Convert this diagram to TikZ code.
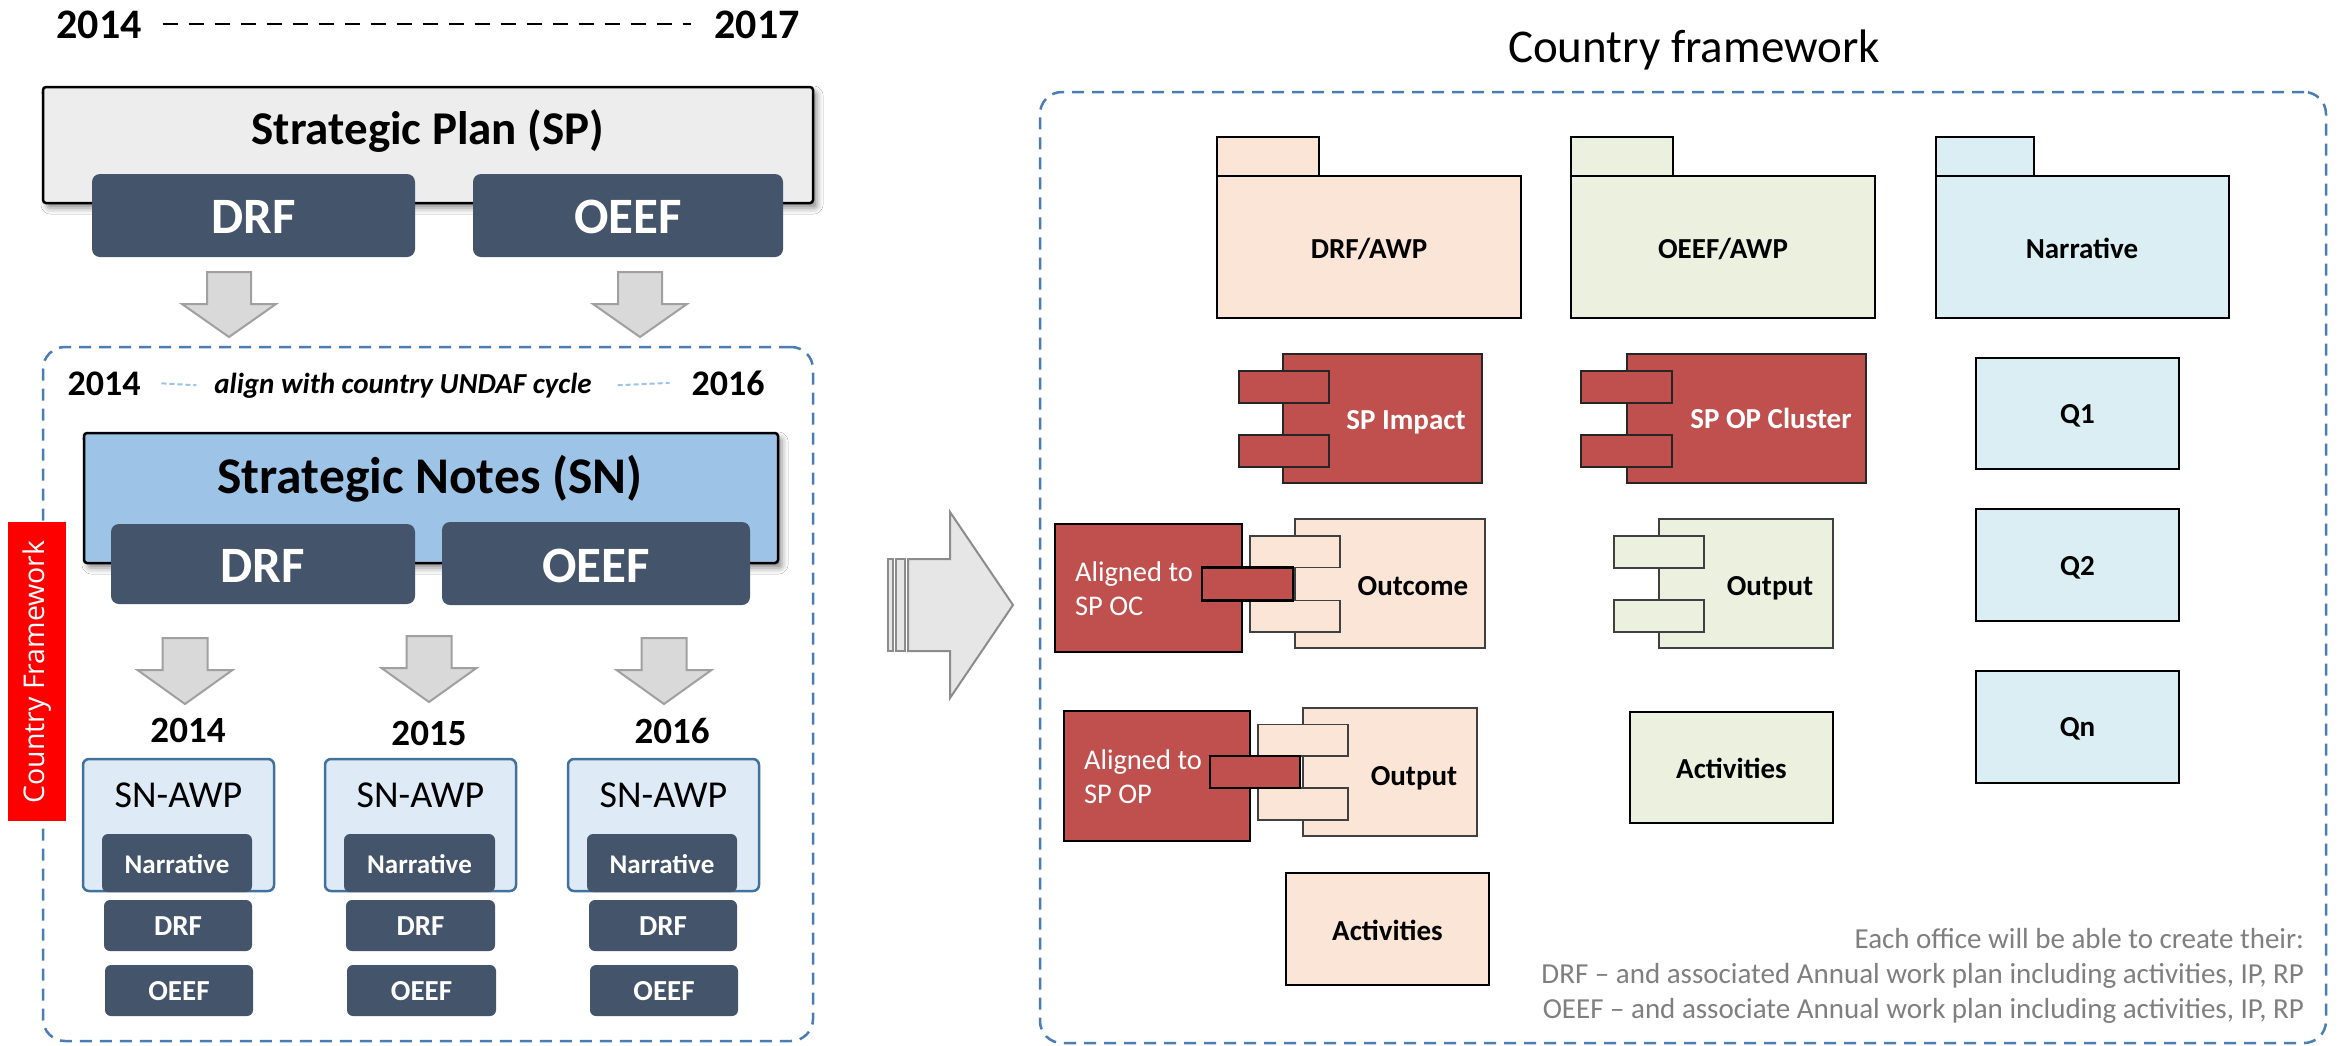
\documentclass[tikz,border=0pt]{standalone}
\usepackage{fontspec}
\setmainfont{Carlito}
\newfontfamily\labelfont{Open Sans}
\usetikzlibrary{shadows.blur}
\definecolor{darkbox}{HTML}{44546A}
\definecolor{spgray}{HTML}{EDEDED}
\definecolor{snblue}{HTML}{9DC3E6}
\definecolor{awpfill}{HTML}{DEEBF7}
\definecolor{awpline}{HTML}{41719C}
\definecolor{dashblue}{HTML}{4A7DB5}
\definecolor{lightdash}{HTML}{9DC3E6}
\definecolor{arrfill}{HTML}{D9D9D9}
\definecolor{arrline}{HTML}{A0A0A0}
\definecolor{bigfill}{HTML}{E7E6E6}
\definecolor{bigline}{HTML}{8C8C8C}
\definecolor{labred}{HTML}{FF0000}
\definecolor{compred}{HTML}{C0504D}
\definecolor{orfill}{HTML}{FBE5D6}
\definecolor{grfill}{HTML}{EBF1DE}
\definecolor{cyfill}{HTML}{DAEEF3}
\definecolor{notegray}{HTML}{7F7F7F}
\newcommand{\rbox}[7][]{%
  \pgfmathsetmacro\rbW{#6-#4}\pgfmathsetmacro\rbH{#7-#5}%
  \node[#2, minimum width=\rbW pt, minimum height=\rbH pt, anchor=north west, #1] (#3) at (#4,#5) {};}
\newcommand{\downarr}[5]{%
  \draw[blockarr] (#1-#5,#2) -- (#1+#5,#2) -- (#1+#5,#3) -- (#1+#5+25,#3) -- (#1,#4) -- (#1-#5-25,#3) -- (#1-#5,#3) -- cycle;}
\tikzset{
  every node/.style={inner sep=0pt, outer sep=0pt},
  bt/.style={font=\bfseries\fontsize{#1}{#1}\selectfont, anchor=base},
  wbt/.style={bt=#1, text=white},
  wrt/.style={font=\fontsize{28.5}{28.5}\selectfont, text=white, anchor=base west},
  darkbx/.style={fill=darkbox, draw=none, rounded corners=8pt},
  spbx/.style={fill=spgray, draw=black, line width=2.5pt, rounded corners=3pt,
    blur shadow={shadow xshift=4pt, shadow yshift=-5pt, shadow blur radius=6pt, shadow opacity=45}},
  snbx/.style={spbx, fill=snblue},
  awpbx/.style={fill=awpfill, draw=awpline, line width=2.5pt, rounded corners=6pt},
  dashbx/.style={draw=dashblue, line width=2.5pt, dash pattern=on 12pt off 8pt, rounded corners=22pt},
  blockarr/.style={fill=arrfill, draw=arrline, line width=2pt},
  bigarr/.style={fill=bigfill, draw=bigline, line width=2pt},
  redlab/.style={fill=labred, draw=none},
  redc/.style={fill=compred, draw=black!85, line width=1.5pt},
  redb/.style={fill=compred, draw=black, line width=2.2pt},
  orc/.style={fill=orfill, draw=black!75, line width=1.5pt},
  grc/.style={fill=grfill, draw=black!75, line width=1.5pt},
  orb/.style={fill=orfill, draw=black, line width=2.5pt},
  grb/.style={fill=grfill, draw=black, line width=2.5pt},
  cyb/.style={fill=cyfill, draw=black, line width=2.5pt},
  notet/.style={font=\fontsize{29}{29}\selectfont, text=notegray, anchor=base east},
}
\begin{document}
\begin{tikzpicture}[x=1pt,y=-1pt]
\useasboundingbox (0,0) rectangle (2339,1045);
\fill[white] (0,0) rectangle (2339,1045);

% ---------------- left panel ----------------
\node[bt=42] (y14) at (99,38) {2014};
\node[bt=42] (y17) at (757,38) {2017};
\draw[black, line width=2pt, dash pattern=on 15pt off 11pt] ([xshift=21pt]y14.east) -- ([xshift=-23pt]y17.west);

\rbox{spbx}{sp}{43}{87}{813}{203}
\node[bt=47] (spt) at (428,144) {Strategic Plan (SP)};
\rbox{darkbx}{spdrf}{92}{174}{415}{257}
\node[wbt=51] (spdrft) at (254,233) {DRF};
\rbox{darkbx}{spoeef}{473}{174}{783}{257}
\node[wbt=51] (spoeeft) at (628,233) {OEEF};

\downarr{229}{272}{304}{337}{22}
\downarr{640}{272}{304}{337}{22}

\rbox{dashbx}{cfl}{43}{347}{813}{1041}
\node[bt=36] (iy14) at (104,395) {2014};
\node[bt=36] (iy16) at (728,395) {2016};
\node[font=\bfseries\itshape\fontsize{29}{29}\selectfont, anchor=base] (undaf) at (403,393) {align with country UNDAF cycle};
\draw[lightdash, line width=2pt, dash pattern=on 5pt off 3pt] ([xshift=21pt]iy14.east) -- ([xshift=-18pt]undaf.west);
\draw[lightdash, line width=2pt, dash pattern=on 5pt off 3pt] ([xshift=26pt]undaf.east) -- ([xshift=-22pt]iy16.west);

\rbox{snbx}{sn}{84}{433}{778}{563}
\node[bt=51.5] (snt) at (430,493) {Strategic Notes (SN)};
\rbox{darkbx}{sndrf}{111}{524}{415}{604}
\node[wbt=51] (sndrft) at (263,582) {DRF};
\rbox{darkbx}{snoeef}{442}{522}{750}{605}
\node[wbt=51] (snoeeft) at (596,582) {OEEF};

\downarr{185}{638}{670}{704}{22.5}
\downarr{429}{636}{668}{702}{22.5}
\downarr{664}{638}{670}{704}{22.5}

\node[bt=37] (ya) at (188,742) {2014};
\node[bt=37] (yb) at (429,745) {2015};
\node[bt=37] (yc) at (672,743) {2016};

\rbox{awpbx}{awpa}{83}{759}{274}{891}
\rbox{awpbx}{awpb}{325}{759}{516}{891}
\rbox{awpbx}{awpc}{568}{759}{759}{891}
\node[font=\fontsize{38}{38}\selectfont, anchor=base] (awpat) at (178.5,807) {SN-AWP};
\node[font=\fontsize{38}{38}\selectfont, anchor=base] (awpbt) at (420.5,807) {SN-AWP};
\node[font=\fontsize{38}{38}\selectfont, anchor=base] (awpct) at (663.5,807) {SN-AWP};

\rbox[rounded corners=6pt]{darkbx}{nara}{102}{834}{252}{892}
\rbox[rounded corners=6pt]{darkbx}{narb}{344}{834}{495}{892}
\rbox[rounded corners=6pt]{darkbx}{narc}{587}{834}{737}{892}
\node[wbt=27] (narat) at (177,873) {Narrative};
\node[wbt=27] (narbt) at (419.5,873) {Narrative};
\node[wbt=27] (narct) at (662,873) {Narrative};

\rbox[rounded corners=6pt]{darkbx}{drfa}{104}{900}{252}{951}
\rbox[rounded corners=6pt]{darkbx}{drfb}{346}{900}{495}{951}
\rbox[rounded corners=6pt]{darkbx}{drfc}{589}{900}{737}{951}
\node[wbt=29] (drfat) at (178,935) {DRF};
\node[wbt=29] (drfbt) at (420.5,935) {DRF};
\node[wbt=29] (drfct) at (663,935) {DRF};

\rbox[rounded corners=6pt]{darkbx}{oefa}{105}{965}{253}{1016}
\rbox[rounded corners=6pt]{darkbx}{oefb}{347}{965}{496}{1016}
\rbox[rounded corners=6pt]{darkbx}{oefc}{590}{965}{738}{1016}
\node[wbt=29] (oefat) at (179,1000) {OEEF};
\node[wbt=29] (oefbt) at (421.5,1000) {OEEF};
\node[wbt=29] (oefct) at (664,1000) {OEEF};

\rbox{redlab}{cflab}{8}{522}{66}{821}
\node[rotate=90, text=white, font=\labelfont\fontsize{28.5}{28.5}\selectfont] (cflabt) at (37,672) {Country Framework};

% ---------------- big arrow ----------------
\draw[bigarr, line width=1.6pt] (888,559) rectangle (893,651);
\draw[bigarr, line width=1.6pt] (896,559) rectangle (905,651);
\draw[bigarr] (908,559) -- (950,559) -- (950,512) -- (1013,605) -- (950,698) -- (950,651) -- (908,651) -- cycle;

% ---------------- right panel ----------------
\node[font=\fontsize{47}{47}\selectfont, anchor=base] (cftitle) at (1694,62) {Country framework};
\rbox{dashbx}{cfr}{1040}{92}{2326}{1043}

% folders
\rbox{orb}{drfawp}{1217}{176}{1521}{318}
\rbox{orb}{drfawptab}{1217}{137}{1319}{176}
\node[bt=29] (drfawpt) at (1369,258) {DRF/AWP};
\rbox{grb}{oefawp}{1571}{176}{1875}{318}
\rbox{grb}{oefawptab}{1571}{137}{1673}{176}
\node[bt=29] (oefawpt) at (1723,258) {OEEF/AWP};
\rbox{cyb}{narr}{1936}{176}{2229}{318}
\rbox{cyb}{narrtab}{1936}{137}{2034}{176}
\node[bt=29] (narrt) at (2082,258) {Narrative};

% SP Impact
\rbox{redc}{spimp}{1283}{354}{1482}{483}
\rbox{redc}{spimpa}{1239}{371}{1329}{403}
\rbox{redc}{spimpb}{1239}{435}{1329}{467}
\node[wbt=29] (spimpt) at (1406,429) {SP Impact};

% SP OP Cluster
\rbox{redc}{spop}{1627}{354}{1866}{483}
\rbox{redc}{spopa}{1581}{371}{1672}{403}
\rbox{redc}{spopb}{1581}{435}{1672}{467}
\node[wbt=29] (spopt) at (1771,428) {SP OP Cluster};

% Q boxes
\rbox{cyb}{qa}{1976}{358}{2179}{469}
\node[bt=29] (qat) at (2077.5,423) {Q1};
\rbox{cyb}{qb}{1976}{509}{2179}{621}
\node[bt=29] (qbt) at (2077.5,575) {Q2};
\rbox{cyb}{qn}{1976}{671}{2179}{783}
\node[bt=29] (qnt) at (2077.5,736) {Qn};

% Outcome with Aligned to SP OC
\rbox{orc}{outc}{1295}{519}{1485}{648}
\rbox{redb}{aloc}{1055}{524}{1242}{652}
\rbox{orc}{outca}{1250}{536}{1340}{567.5}
\rbox{orc}{outcb}{1250}{600.5}{1340}{632}
\rbox{redb}{conoc}{1202}{567.5}{1293}{600.5}
\node[bt=29] (outct) at (1413,595) {Outcome};
\node[wrt] (aloct1) at (1075,581) {Aligned to};
\node[wrt] (aloct2) at (1075,615) {SP OC};

% Output with Aligned to SP OP
\rbox{orc}{outp}{1303}{708}{1477}{836}
\rbox{redb}{alop}{1064}{711}{1250}{841}
\rbox{orc}{outpa}{1258}{724.5}{1348}{756}
\rbox{orc}{outpb}{1258}{788}{1348}{820}
\rbox{redb}{conop}{1210}{756}{1300}{788}
\node[bt=29] (outpt) at (1414,785) {Output};
\node[wrt] (alopt1) at (1084,769.5) {Aligned to};
\node[wrt] (alopt2) at (1084,803.5) {SP OP};

% Output green
\rbox{grc}{goutp}{1659}{519}{1833}{648}
\rbox{grc}{goutpa}{1614}{536}{1704}{568}
\rbox{grc}{goutpb}{1614}{600}{1704}{632}
\node[bt=29] (goutpt) at (1770,595) {Output};

% Activities
\rbox{orb}{oact}{1286}{873}{1489}{985}
\node[bt=29] (oactt) at (1387.5,940) {Activities};
\rbox{grb}{gact}{1630}{712}{1833}{823}
\node[bt=29] (gactt) at (1731.5,778) {Activities};

% note
\node[notet] (note1) at (2304,948) {Each office will be able to create their:};
\node[notet] (note2) at (2304,983) {DRF – and associated Annual work plan including activities, IP, RP};
\node[notet] (note3) at (2304,1018) {OEEF – and associate Annual work plan including activities, IP, RP};
\end{tikzpicture}
\end{document}
